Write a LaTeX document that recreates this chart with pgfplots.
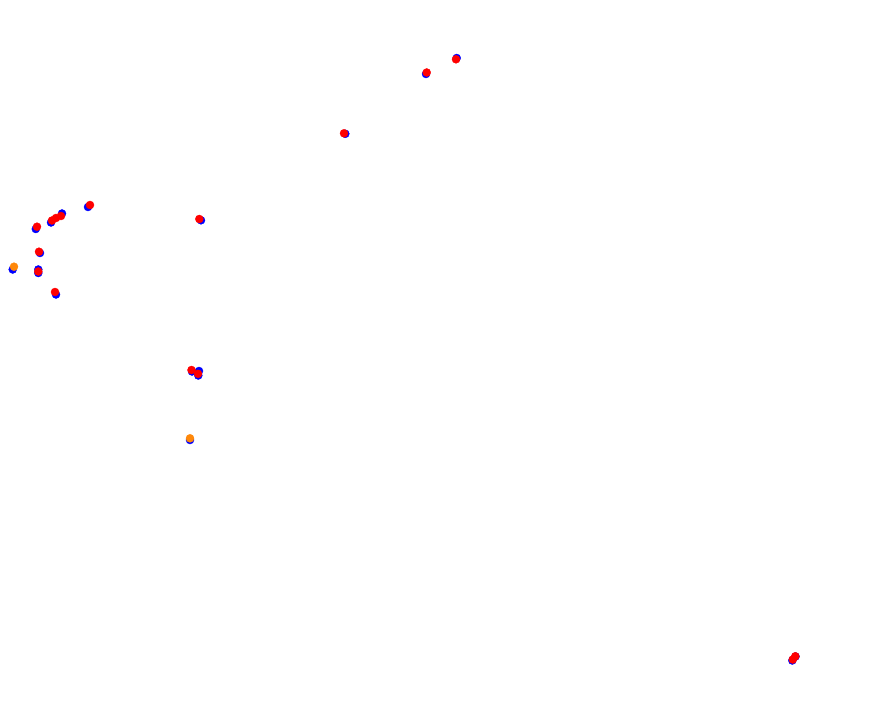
\documentclass[border=0pt]{standalone}
\usepackage{pgfplots}
\pgfplotsset{compat=1.18}
\definecolor{ptblue}{RGB}{0,0,255}
\definecolor{ptred}{RGB}{255,0,0}
\definecolor{ptorange}{RGB}{255,136,10}
\begin{document}
\begin{tikzpicture}
\useasboundingbox (0,0) rectangle (882pt,719pt);
\begin{axis}[
  at={(0,0)}, anchor=south west,
  scale only axis,
  width=882pt, height=719pt,
  xmin=0, xmax=882, ymin=0, ymax=719,
  y dir=reverse,
  hide axis,
  clip=false
]
% blue points
\addplot[only marks, mark=*, mark size=4pt, color=ptblue] coordinates {
  (88,207) (62,213.5) (51,222.5) (35.8,229) (40,253) (12.7,269.5)
  (38.3,269.5) (38.3,273) (56,294.5) (192,371.5) (199,371) (198.3,375.5)
  (190,440) (456.7,58) (426,74) (792.3,660.5) (795.5,656.5) (201,220.3) (345.3,133.8)
};
% orange points
\addplot[only marks, mark=*, mark size=4pt, color=ptorange, draw=ptorange] coordinates {
  (14,266.7) (190,438.3)
};
% red points
\addplot[only marks, mark=*, mark size=4pt, color=ptred] coordinates {
  (90,205) (61,216) (56,218) (52,220.5) (37,226.7) (39,251.7)
  (38.3,271.5) (55,292) (191.5,370) (198,373.8) (456,59.3)
  (426.7,72.5) (792.8,659.5) (795.3,656.3) (199.3,219) (344,133.3)
};
\end{axis}
\end{tikzpicture}
\end{document}
